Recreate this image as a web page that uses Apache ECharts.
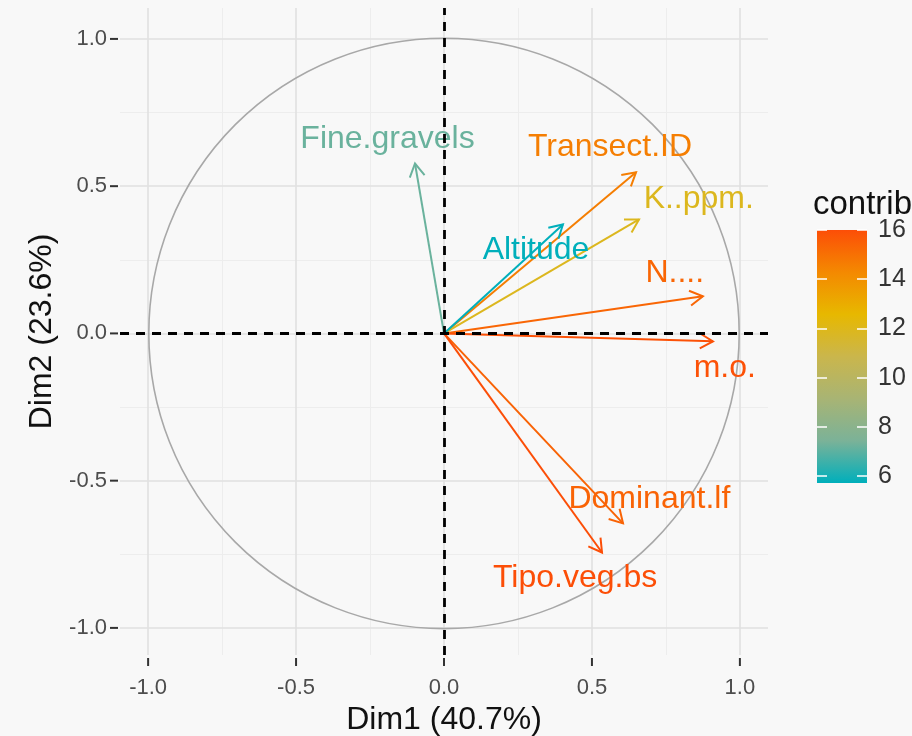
<!DOCTYPE html>
<html>
<head>
<meta charset="utf-8">
<script src="https://cdn.jsdelivr.net/npm/echarts@6.0.0/dist/echarts.min.js"></script>
<style>
html,body{margin:0;padding:0;background:#f8f8f8;}
#chart{width:912px;height:736px;}
</style>
</head>
<body>
<div id="chart"></div>
<script>
// ---- data ----
const variables = ['Fine.gravels','Transect.ID','K..ppm.','Altitude','N....','m.o.','Dominant.lf','Tipo.veg.bs'];
const dim1 = [-0.098, 0.649, 0.659, 0.402, 0.875, 0.909, 0.605, 0.534];
const dim2 = [0.577, 0.547, 0.387, 0.370, 0.126, -0.027, -0.645, -0.744];
const contrib = [7.2, 14.6, 11.9, 5.72, 15.3, 15.9, 15.4, 16.0];
const labelX = [-0.191, 0.561, 0.861, 0.311, 0.780, 0.949, 0.694, 0.443];
const labelY = [0.659, 0.633, 0.457, 0.282, 0.204, -0.119, -0.564, -0.830];
const axisTicks = [-1.0, -0.5, 0.0, 0.5, 1.0];
const minorGrid = [-0.75, -0.25, 0.25, 0.75];
const legendTicks = [6, 8, 10, 12, 14, 16];
const palette = ['#00AFBB','#7BB298','#A8B474','#CAB64C','#E7B800','#F48901','#FC4E07'];
const xTitle = 'Dim1 (40.7%)';
const yTitle = 'Dim2 (23.6%)';
const legendTitle = 'contrib';

const cMin = Math.min.apply(null, contrib);
const cMax = Math.max.apply(null, contrib);
const FONT = '"Liberation Sans", Arial, Helvetica, sans-serif';

const arrowData = variables.map((v, i) => [dim1[i], dim2[i], contrib[i], v]);
const labelData = variables.map((v, i) => [labelX[i], labelY[i], contrib[i], v]);

const chart = echarts.init(document.getElementById('chart'), null, {renderer: 'canvas'});

function gridLines(vals, color, width) {
  const out = [];
  vals.forEach(v => {
    out.push({xAxis: v, lineStyle: {color: color, width: width, type: 'solid'}});
    out.push({yAxis: v, lineStyle: {color: color, width: width, type: 'solid'}});
  });
  return out;
}

const hiddenLine = {show: true, lineStyle: {color: 'rgba(0,0,0,0)', width: 1}};

const option = {
  backgroundColor: '#f8f8f8',
  animation: false,
  textStyle: {fontFamily: FONT},
  grid: [
    {left: 120, top: 8, width: 648, height: 647, containLabel: false, outerBoundsMode: 'none'},
    {left: 817, top: 230, width: 50, height: 253, containLabel: false, outerBoundsMode: 'none'}
  ],
  xAxis: [
    {
      type: 'value', gridIndex: 0, min: -1.095, max: 1.095,
      axisLine: hiddenLine,
      axisTick: {show: false},
      axisLabel: {customValues: axisTicks, formatter: v => v.toFixed(1), fontSize: 22, color: '#4d4d4d', margin: 22, fontFamily: FONT},
      splitLine: {show: false},
      name: xTitle, nameLocation: 'middle', nameGap: 46,
      nameTextStyle: {fontSize: 32, color: '#111', fontFamily: FONT}
    },
    {type: 'value', gridIndex: 1, min: 0, max: 1, show: false}
  ],
  yAxis: [
    {
      type: 'value', gridIndex: 0, min: -1.092, max: 1.105,
      axisLine: hiddenLine,
      axisTick: {show: false},
      axisLabel: {customValues: axisTicks, formatter: v => v.toFixed(1), fontSize: 22, color: '#4d4d4d', margin: 13, fontFamily: FONT},
      splitLine: {show: false},
      name: yTitle, nameLocation: 'middle', nameGap: 62, nameRotate: 90,
      nameTextStyle: {fontSize: 32, color: '#111', fontFamily: FONT}
    },
    {
      type: 'value', gridIndex: 1, position: 'left', min: cMin, max: cMax, z: 10,
      axisLine: hiddenLine,
      axisTick: {show: true, inside: true, customValues: legendTicks, length: 10, lineStyle: {color: '#ffffff', width: 1.5}},
      axisLabel: {show: false},
      splitLine: {show: false}
    },
    {
      type: 'value', gridIndex: 1, position: 'right', min: cMin, max: cMax, z: 10,
      axisLine: hiddenLine,
      axisTick: {show: true, inside: true, customValues: legendTicks, length: 10, lineStyle: {color: '#ffffff', width: 1.5}},
      axisLabel: {show: true, customValues: legendTicks, fontSize: 25, color: '#333', margin: 11, fontFamily: FONT},
      splitLine: {show: false}
    }
  ],
  visualMap: {
    show: false, type: 'continuous', min: cMin, max: cMax, dimension: 2,
    seriesIndex: [2, 3],
    inRange: {color: palette}
  },
  graphic: [
    {type: 'text', left: 813, top: 188, style: {text: legendTitle, font: '33px ' + FONT, fill: '#111'}}
  ],
  series: [
    {
      type: 'line', xAxisIndex: 0, yAxisIndex: 0, data: [], silent: true,
      markLine: {
        silent: true, symbol: 'none', z: 1, label: {show: false},
        data: gridLines(minorGrid, '#ededed', 1).concat(gridLines(axisTicks, '#e0e0e0', 1.6))
      }
    },
    {
      type: 'custom', xAxisIndex: 0, yAxisIndex: 0, z: 2, silent: true,
      data: [[0, 0]],
      renderItem: function (params, api) {
        const c = api.coord([0, 0]);
        const e = api.coord([1, 0]);
        const t = api.coord([0, 1]);
        const r = ((e[0] - c[0]) + (c[1] - t[1])) / 2;
        return {type: 'circle', shape: {cx: c[0], cy: c[1], r: r},
          style: {fill: null, stroke: '#a8a8a8', lineWidth: 1.6}};
      }
    },
    {
      type: 'custom', xAxisIndex: 0, yAxisIndex: 0, z: 3, silent: true,
      data: arrowData,
      encode: {x: 0, y: 1},
      renderItem: function (params, api) {
        const o = api.coord([0, 0]);
        const p = api.coord([api.value(0), api.value(1)]);
        const color = api.visual('color');
        const ang = Math.atan2(p[1] - o[1], p[0] - o[0]);
        const L = 15, a = Math.PI / 6;
        const h1 = [p[0] - L * Math.cos(ang - a), p[1] - L * Math.sin(ang - a)];
        const h2 = [p[0] - L * Math.cos(ang + a), p[1] - L * Math.sin(ang + a)];
        return {type: 'group', children: [
          {type: 'line', shape: {x1: o[0], y1: o[1], x2: p[0], y2: p[1]}, style: {stroke: color, lineWidth: 2}},
          {type: 'polyline', shape: {points: [h1, p, h2]}, style: {stroke: color, lineWidth: 2, fill: null}}
        ]};
      }
    },
    {
      type: 'custom', xAxisIndex: 0, yAxisIndex: 0, z: 4, silent: true,
      data: labelData,
      encode: {x: 0, y: 1},
      renderItem: function (params, api) {
        const p = api.coord([api.value(0), api.value(1)]);
        const color = api.visual('color');
        return {type: 'text', x: p[0], y: p[1],
          style: {text: variables[params.dataIndex], fill: color, font: '32px ' + FONT,
            textAlign: 'center', textVerticalAlign: 'middle'}};
      }
    },
    {
      type: 'line', xAxisIndex: 0, yAxisIndex: 0, data: [], silent: true,
      markLine: {
        silent: true, symbol: 'none', z: 8, label: {show: false},
        lineStyle: {color: '#000', width: 2.8, type: [9, 7]},
        data: [{xAxis: 0}, {yAxis: 0}]
      }
    },
    {
      type: 'custom', xAxisIndex: 1, yAxisIndex: 1, z: 2, silent: true,
      data: [[0, cMin, 1, cMax]],
      renderItem: function (params, api) {
        const a = api.coord([0, cMax]);
        const b = api.coord([1, cMin]);
        const stops = palette.map((c, i) => ({offset: i / (palette.length - 1), color: c}));
        return {type: 'rect', shape: {x: a[0], y: a[1], width: b[0] - a[0], height: b[1] - a[1]},
          style: {fill: new echarts.graphic.LinearGradient(0, 1, 0, 0, stops)}};
      }
    },
    {
      // axis tick marks outside the panel (ggplot style)
      type: 'custom', xAxisIndex: 0, yAxisIndex: 0, z: 9, silent: true, clip: false,
      data: axisTicks.map(v => [v, v]),
      renderItem: function (params, api) {
        const cs = params.coordSys;
        const px = api.coord([api.value(0), 0])[0];
        const py = api.coord([0, api.value(1)])[1];
        const bottom = cs.y + cs.height;
        const left = cs.x;
        return {type: 'group', children: [
          {type: 'line', shape: {x1: px, y1: bottom + 3, x2: px, y2: bottom + 11}, style: {stroke: '#333', lineWidth: 2}},
          {type: 'line', shape: {x1: left - 10, y1: py, x2: left - 2, y2: py}, style: {stroke: '#333', lineWidth: 2}}
        ]};
      }
    }
  ]
};
chart.setOption(option);
</script>
</body>
</html>
